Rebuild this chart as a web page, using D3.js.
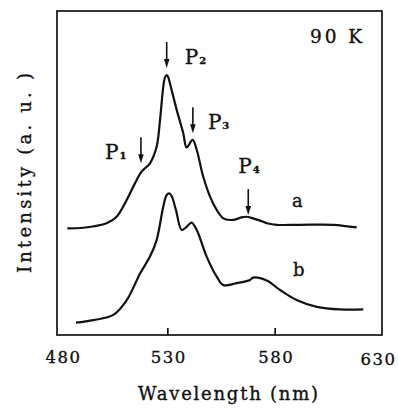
<!DOCTYPE html>
<html lang="en">
<head>
  <meta charset="UTF-8">
  <title>Intensity vs Wavelength, 90 K</title>
  <style>
    body { margin: 0; background: #fff; }
    svg text { font-family: "DejaVu Serif", "Liberation Serif", serif; fill: #111; stroke: #111; stroke-width: 0.35; }
  </style>
</head>
<body>
<div id="chart"></div>
<script src="https://d3js.org/d3.v7.min.js"></script>
<script>
  // Spektrum a (nm, a.u.)
  var waveA = [483.4, 490.9, 501.7, 506.4, 511.1, 514.9, 518.0, 521.9, 525.0, 526.6, 528.1, 528.9, 529.7, 530.5, 531.2, 534.4, 537.4, 539.0, 541.8, 543.7, 546.7, 549.9, 553.0, 556.1, 559.2, 562.0, 564.6, 566.9, 569.9, 573.2, 576.9, 580.9, 591.8, 607.3, 618.2];
  var intA  = [32.9, 33.1, 34.5, 36.5, 41.7, 46.8, 50.4, 53.0, 58.1, 66.4, 76.6, 79.5, 80.2, 79.4, 77.7, 69.4, 62.3, 57.9, 60.2, 57.1, 48.9, 42.7, 38.6, 36.0, 35.5, 35.7, 36.3, 36.5, 36.0, 35.3, 34.4, 34.0, 34.0, 34.0, 33.2];

  // Spektrum b (nm, a.u.)
  var waveB = [487.4, 495.5, 504.8, 511.1, 517.3, 521.9, 525.0, 528.1, 529.7, 530.9, 532.0, 534.0, 536.7, 539.0, 541.3, 543.7, 548.3, 553.0, 556.1, 562.3, 568.5, 570.0, 576.3, 582.5, 590.2, 599.6, 610.4, 621.3];
  var intB  = [3.8, 4.6, 6.2, 10.8, 19.0, 24.2, 29.3, 39.6, 43.2, 43.7, 42.9, 38.6, 32.4, 33.4, 34.7, 32.4, 24.2, 18.0, 15.4, 16.0, 17.0, 17.7, 16.8, 13.9, 10.8, 8.7, 7.9, 7.9];

  var tickValues = [480, 530, 580, 630];

  // Peak-Markierungen: Wellenlaenge, Intensitaet an der Pfeilspitze
  var peakNames = ['1', '2', '3', '4'];
  var peakWave  = [517.7, 529.7, 541.9, 567.7];
  var peakInt   = [53.0, 82.4, 62.3, 37.0];

  var curveNames = ['a', 'b'];

  var W = 398, H = 408;
  var frame = { left: 57, right: 382, top: 11, bottom: 335 };

  var svg = d3.select('#chart').append('svg')
    .attr('width', W)
    .attr('height', H);

  var x = d3.scaleLinear()
    .domain([478.6, 630])
    .range([frame.left, frame.right]);

  var y = d3.scaleLinear()
    .domain([0, 100])
    .range([frame.bottom, frame.top]);

  // Rahmen
  svg.append('rect')
    .attr('x', frame.left)
    .attr('y', frame.top)
    .attr('width', frame.right - frame.left)
    .attr('height', frame.bottom - frame.top)
    .attr('fill', 'none')
    .attr('stroke', '#111')
    .attr('stroke-width', 1.7);

  // x-Achse: Ticks nach innen, nur 530 und 580 sichtbar
  var xAxis = d3.axisBottom(x)
    .tickValues(tickValues)
    .tickSize(-7)
    .tickPadding(14)
    .tickFormat(d3.format('d'));

  var gx = svg.append('g')
    .attr('transform', 'translate(0,' + frame.bottom + ')')
    .call(xAxis);
  gx.select('.domain').remove();
  gx.selectAll('.tick line')
    .attr('stroke', '#111')
    .attr('stroke-width', 1.7)
    .attr('display', function(d) { return (d === 480 || d === 630) ? 'none' : null; });
  gx.selectAll('.tick text')
    .attr('font-size', 16.5)
    .attr('letter-spacing', 1.5)
    .attr('dx', function(d) { return d === 480 ? 3 : (d === 630 ? -4 : 1); })
    .attr('dy', function(d) { return d === 630 ? '0.95em' : '0.85em'; })
    .style('font-family', '"DejaVu Serif", serif')
    .style('fill', '#111');

  // Kurven
  var line = d3.line()
    .x(function(d) { return x(d[0]); })
    .y(function(d) { return y(d[1]); })
    .curve(d3.curveCatmullRom.alpha(0.5));

  var seriesA = d3.zip(waveA, intA);
  var seriesB = d3.zip(waveB, intB);

  [seriesA, seriesB].forEach(function(s) {
    svg.append('path')
      .datum(s)
      .attr('fill', 'none')
      .attr('stroke', '#111')
      .attr('stroke-width', 2.2)
      .attr('stroke-linejoin', 'round')
      .attr('d', line);
  });

  // Pfeile
  var arrowLen = 26;
  var labelOffset = [[-36, -4], [18, -4], [15, -4], [-10, -42]];

  peakWave.forEach(function(w, i) {
    var px = x(w), tip = y(peakInt[i]);
    svg.append('line')
      .attr('x1', px).attr('x2', px)
      .attr('y1', tip - arrowLen).attr('y2', tip - 6)
      .attr('stroke', '#111')
      .attr('stroke-width', 1.6);
    svg.append('path')
      .attr('d', 'M' + (px - 2.8) + ',' + (tip - 9) + 'L' + (px + 2.8) + ',' + (tip - 9) + 'L' + px + ',' + tip + 'Z')
      .attr('fill', '#111');

    var t = svg.append('text')
      .attr('x', px + labelOffset[i][0])
      .attr('y', tip + labelOffset[i][1])
      .attr('font-size', 20);
    t.append('tspan').text('P');
    t.append('tspan')
      .attr('font-size', 10)
      .attr('font-weight', 'bold')
      .attr('dx', 1)
      .text(peakNames[i]);
  });

  // Kurvenbezeichnungen
  var curveLabelWave = [588.1, 588.5];
  var curveLabelInt = [39.5, 18.3];
  curveNames.forEach(function(n, i) {
    svg.append('text')
      .attr('x', x(curveLabelWave[i]))
      .attr('y', y(curveLabelInt[i]))
      .attr('font-size', 18)
      .text(n);
  });

  // Temperatur
  svg.append('text')
    .attr('x', 310)
    .attr('y', 43)
    .attr('font-size', 18.5)
    .attr('textLength', 52)
    .attr('lengthAdjust', 'spacing')
    .text('90 K');

  // Achsenbeschriftungen
  svg.append('text')
    .attr('x', 138)
    .attr('y', 400)
    .attr('font-size', 18)
    .attr('textLength', 180)
    .attr('lengthAdjust', 'spacing')
    .text('Wavelength (nm)');

  svg.append('text')
    .attr('transform', 'translate(31,273) rotate(-90)')
    .attr('font-size', 18)
    .attr('textLength', 200)
    .attr('lengthAdjust', 'spacing')
    .text('Intensity (a. u. )');
</script>
</body>
</html>
